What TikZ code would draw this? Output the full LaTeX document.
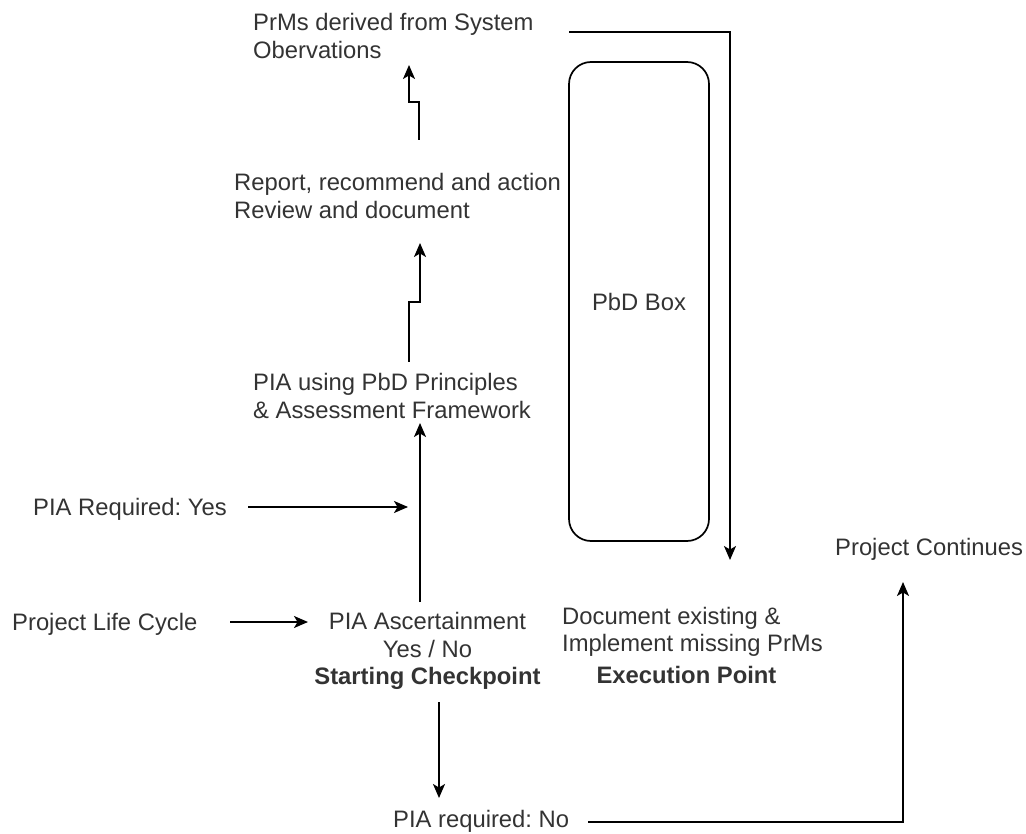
\documentclass[tikz,border=0pt]{standalone}
\usepackage{fontspec}
\setmainfont{Liberation Sans}
\usetikzlibrary{arrows.meta}
\definecolor{txtgray}{HTML}{333333}
\frenchspacing
\begin{document}
\begin{tikzpicture}[x=1pt,y=-1pt,
  txt/.style={inner sep=0pt, text=txtgray, font=\fontsize{23.8}{27.5}\selectfont\frenchspacing},
  conn/.style={line width=1.7pt, draw=black},
  arr/.style={conn, -{Stealth[length=14pt,width=12pt,inset=3.5pt]}},
  boxstyle/.style={draw=black, line width=1.7pt, rounded corners=22pt, minimum width=140pt, minimum height=479pt}]
\useasboundingbox (0,0) rectangle (1026,834);
% nodes
\node[txt, anchor=west, align=left] (prms) at (253,36) {PrMs derived from System\\Obervations};
\node[txt, anchor=west, align=left] (report) at (234,196) {Report, recommend and action\\Review and document};
\node[txt, anchor=west, align=left] (pia) at (253,396) {PIA using PbD Principles\\\& Assessment Framework};
\node[txt, anchor=west] (yes) at (33,509) {PIA Required: Yes};
\node[txt, anchor=west] (plc) at (12,624) {Project Life Cycle};
\node[txt, align=center] (asc) at (427.5,651) {PIA Ascertainment\\Yes / No\\\textbf{Starting Checkpoint}};
\node[txt, anchor=west] (no) at (393,821) {PIA required: No};
\node[txt, anchor=west, align=left] (doc) at (562,632) {Document existing \&\\Implement missing PrMs};
\node[txt, font=\fontsize{23.8}{27.5}\selectfont\bfseries] (exec) at (686.5,675) {Execution Point};
\node[txt, anchor=west] (cont) at (835,549) {Project Continues};
\node[txt, boxstyle] (box) at (639,301.5) {PbD Box};
% connector points
\coordinate (plcE) at (230,622);
\coordinate (ascW) at (308,622);
\coordinate (yesE) at (248,507);
\coordinate (vline) at (408,507);
\coordinate (ascN) at (420,602);
\coordinate (piaS) at (420,423);
\coordinate (piaN) at (409,362);
\coordinate (pb1) at (409,302);
\coordinate (pb2) at (420,302);
\coordinate (repS) at (420,243);
\coordinate (repN) at (419,140);
\coordinate (rb1) at (419,102);
\coordinate (rb2) at (409,102);
\coordinate (prmsS) at (409,65);
\coordinate (prmsE) at (569,32);
\coordinate (pcorner) at (730,32);
\coordinate (docN) at (730,560);
\coordinate (ascS) at (439,702);
\coordinate (noN) at (439,798);
\coordinate (noE) at (588,822);
\coordinate (ncorner) at (903,822);
\coordinate (contS) at (903,582);
% connectors
\draw[arr] (plcE) -- (ascW);
\draw[arr] (yesE) -- (vline);
\draw[arr] (ascN) -- (piaS);
\draw[arr] (piaN) -- (pb1) -- (pb2) -- (repS);
\draw[arr] (repN) -- (rb1) -- (rb2) -- (prmsS);
\draw[arr] (prmsE) -- (pcorner) -- (docN);
\draw[arr] (ascS) -- (noN);
\draw[arr] (noE) -- (ncorner) -- (contS);
\end{tikzpicture}
\end{document}
